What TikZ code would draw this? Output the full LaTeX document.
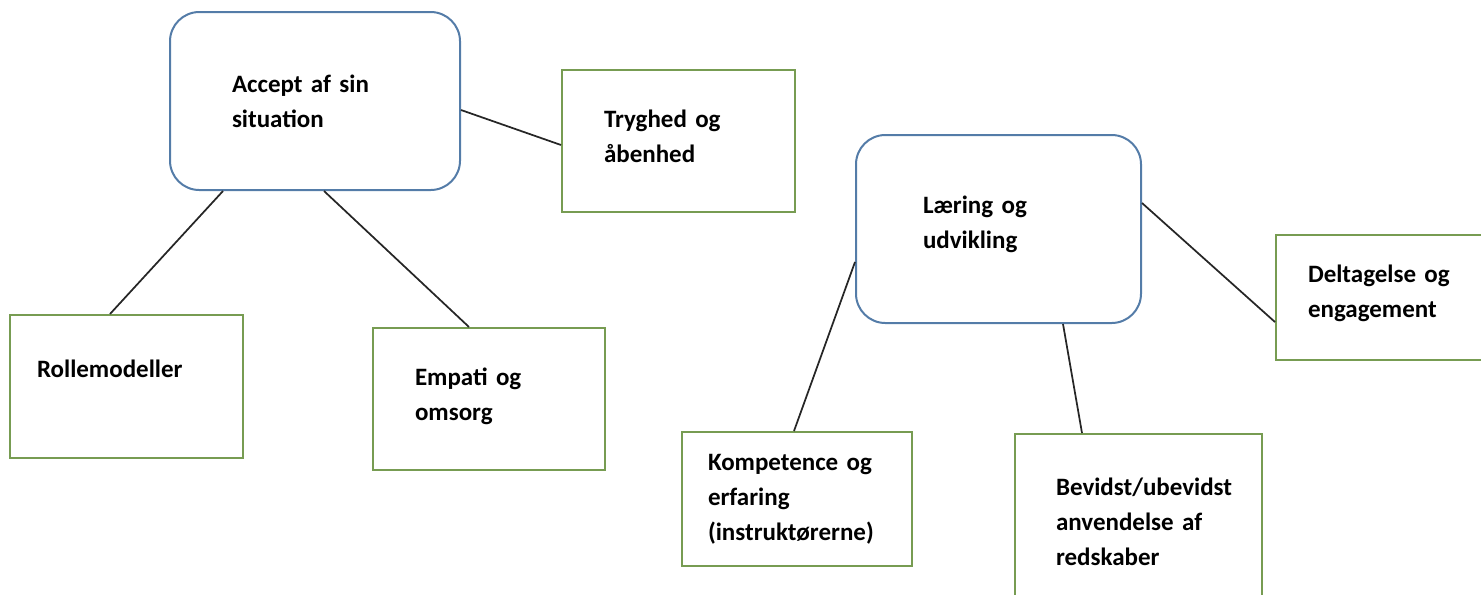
\documentclass[tikz,border=0pt]{standalone}
\usepackage{fontspec}
\setmainfont{Carlito}
\usetikzlibrary{positioning}
\definecolor{boxblue}{RGB}{84,124,168}
\definecolor{boxgreen}{RGB}{119,156,82}

\begin{document}
\begin{tikzpicture}[x=0.75pt,y=-0.75pt,
  txt/.style={align=left,inner sep=0pt,font=\fontsize{18.75}{26.25}\selectfont\bfseries},
  rbox/.style={txt,draw=boxblue,line width=1.5pt,rounded corners=22pt},
  gbox/.style={txt,draw=boxgreen,line width=1.5pt},
  link/.style={draw=black!85,line width=1.3pt}]
\useasboundingbox (0,0) rectangle (1481,594);

\node[rbox,minimum width=217.5pt,minimum height=133.5pt,text width=124.5pt] (accept) at (315,101) {Accept af sin\\situation};
\node[gbox,minimum width=174.75pt,minimum height=106.5pt,text width=111.75pt,text depth=33pt] (tryghed) at (678.5,141) {Tryghed og\\åbenhed};
\node[gbox,minimum width=174.75pt,minimum height=107.25pt,text width=134.25pt,text depth=27pt] (rolle) at (126.5,386.5) {Rollemodeller};
\node[gbox,minimum width=174pt,minimum height=106.5pt,text width=111pt,text depth=34pt] (empati) at (489,399) {Empati og\\omsorg};

\node[rbox,minimum width=213.75pt,minimum height=141pt,text width=113.25pt,text depth=36pt] (laering) at (998.5,229) {Læring og\\udvikling};
\node[gbox,minimum width=163.5pt,minimum height=93.75pt,text width=115.5pt,text depth=35pt] (deltag) at (1385,297.5) {Deltagelse og\\engagement};
\node[gbox,minimum width=172.5pt,minimum height=100.5pt,text width=133.5pt] (kompet) at (797,499) {Kompetence og\\erfaring\\(instruktørerne)};
\node[gbox,minimum width=185.25pt,minimum height=132pt,text width=123.75pt] (bevidst) at (1138.5,522) {Bevidst/ubevidst\\anvendelse af\\redskaber};

\draw[link] ([yshift=-6.75pt]accept.east) -- ([yshift=-3pt]tryghed.west);
\draw[link] ([xshift=40.5pt]accept.south west) -- ([xshift=75.75pt]rolle.north west);
\draw[link] ([xshift=116.25pt]accept.south west) -- ([xshift=72.75pt]empati.north west);
\draw[link] ([yshift=19.5pt]laering.east) -- ([yshift=-18.4pt]deltag.west);
\draw[link] ([yshift=-24.75pt]laering.west) -- ([xshift=84.75pt]kompet.north west);
\draw[link] ([xshift=156pt]laering.south west) -- ([xshift=51pt]bevidst.north west);
\end{tikzpicture}
\end{document}
